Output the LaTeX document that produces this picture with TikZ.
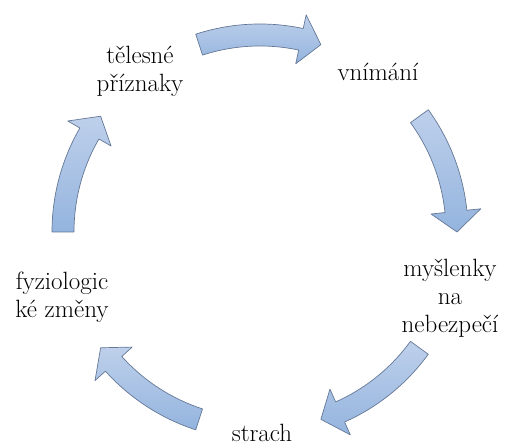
\documentclass[tikz,border=0pt]{standalone}
\usetikzlibrary{calc}

\definecolor{arrowtop}{RGB}{190,208,235}
\definecolor{arrowbottom}{RGB}{148,180,222}
\definecolor{arrowline}{RGB}{100,120,150}

\begin{document}
\begin{tikzpicture}[x=1pt, y=1pt,
        steplabel/.style={align=center, inner sep=1pt, font=\rmfamily\fontsize{25}{28}\selectfont},
        cyclearrow/.style={draw=arrowline, line width=0.7pt, line join=round,
            top color=arrowtop, bottom color=arrowbottom}]
        \useasboundingbox (0,0) rectangle (507,446);
        \coordinate (c) at (260,214);
        \node[steplabel] (vnimani) at (378,374) {vnímání};
        \node[steplabel] (myslenky) at (450,148) {myšlenky\\na\\nebezpečí};
        \node[steplabel] (strach) at (262,13) {strach};
        \node[steplabel] (zmeny) at (62,149) {fyziologic\\ké změny};
        \node[steplabel] (priznaky) at (140,375) {tělesné\\příznaky};
        % arrows between the steps
        \begin{scope}[shift={(c)}]
            \foreach \m in {90,18,-54,-126,162}{
                \draw[cyclearrow] ({\m+18}:208pt)
                    arc[start angle={\m+18}, end angle={\m-12}, radius=208pt]
                    -- ({\m-12}:222pt) -- ({\m-18}:197pt) -- ({\m-12}:172pt)
                    -- ({\m-12}:186pt)
                    arc[start angle={\m-12}, end angle={\m+18}, radius=186pt]
                    -- cycle;
            }
        \end{scope}
\end{tikzpicture}
\end{document}
